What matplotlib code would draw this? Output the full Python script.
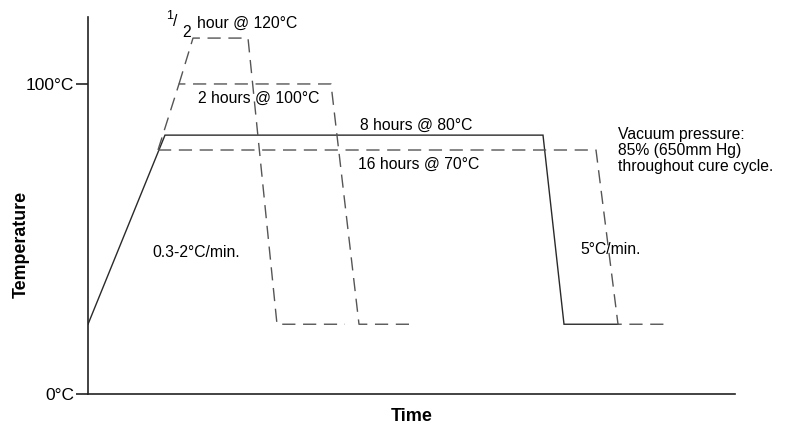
import matplotlib
matplotlib.use("Agg")
import matplotlib.pyplot as plt

plt.rcParams["font.family"] = ["Liberation Sans", "DejaVu Sans"]

# cure profiles: (time, temperature) vertices, time in arbitrary units
# solid line = 8 hours @ 80°C
solid_t = [0, 77, 455, 476, 530]
solid_T = [22.5, 83.5, 83.5, 22.5, 22.5]

# dashed profiles
t70 = [70, 508, 530, 582]
T70 = [78.7, 78.7, 22.5, 22.5]

t100 = [70, 91, 243, 271, 325]
T100 = [78.7, 100, 100, 22.5, 22.5]

t120 = [91, 105, 160, 189, 257]
T120 = [100, 114.8, 114.8, 22.5, 22.5]

ytick_vals = [0, 100]
ytick_labels = ["0°C", "100°C"]

line_col = "#2a2a2a"
dash_col = "#555555"
fs = 11.3

fig = plt.figure(figsize=(7.9, 4.28), dpi=100, facecolor="white")
ax = fig.add_axes([88 / 790, 1 - 394 / 428, (735 - 88) / 790, (394 - 17) / 428])

ax.plot(solid_t, solid_T, color=line_col, lw=1.0, solid_joinstyle="miter")
for tt, TT in [(t70, T70), (t100, T100), (t120, T120)]:
    ax.plot(tt, TT, color=dash_col, lw=1.0, dashes=(9.5, 5.5))

ax.set_xlim(0, 647)
ax.set_ylim(0, 121.6)

# only left and bottom axis lines
for s in ["top", "right"]:
    ax.spines[s].set_visible(False)
for s in ["left", "bottom"]:
    ax.spines[s].set_color("#222222")
    ax.spines[s].set_linewidth(1.2)

ax.set_xticks([])
ax.set_yticks(ytick_vals)
ax.set_yticklabels(ytick_labels, fontsize=12.5)
ax.tick_params(axis="y", length=9, width=1.2, color="#222222", pad=1)

ax.set_xlabel("Time", fontsize=13, fontweight="bold", labelpad=10)
ax.set_ylabel("Temperature", fontsize=12.8, fontweight="bold")
ax.yaxis.set_label_coords(-0.090, 0.398)

# annotations
ax.text(78.5, 121.9, "1", fontsize=9, ha="left", va="center", clip_on=False)
ax.text(85, 120.0, "/", fontsize=fs, ha="left", va="center", clip_on=False)
ax.text(94.5, 116.6, "2", fontsize=fs, ha="left", va="center", clip_on=False)
ax.text(109, 119.4, "hour @ 120°C", fontsize=fs, ha="left", va="center", clip_on=False)
ax.text(110, 95.3, "2 hours @ 100°C", fontsize=fs, ha="left", va="center")
ax.text(272, 86.6, "8 hours @ 80°C", fontsize=fs, ha="left", va="center")
ax.text(270, 74.2, "16 hours @ 70°C", fontsize=fs, ha="left", va="center")
ax.text(530, 78.5, "Vacuum pressure:\n85% (650mm Hg)\nthroughout cure cycle.",
        fontsize=fs, ha="left", va="center", linespacing=1.08)
ax.text(64, 45.8, "0.3-2°C/min.", fontsize=fs, ha="left", va="center")
ax.text(492, 46.5, "5°C/min.", fontsize=fs, ha="left", va="center")

fig.savefig("out.png", dpi=100, facecolor="white")
